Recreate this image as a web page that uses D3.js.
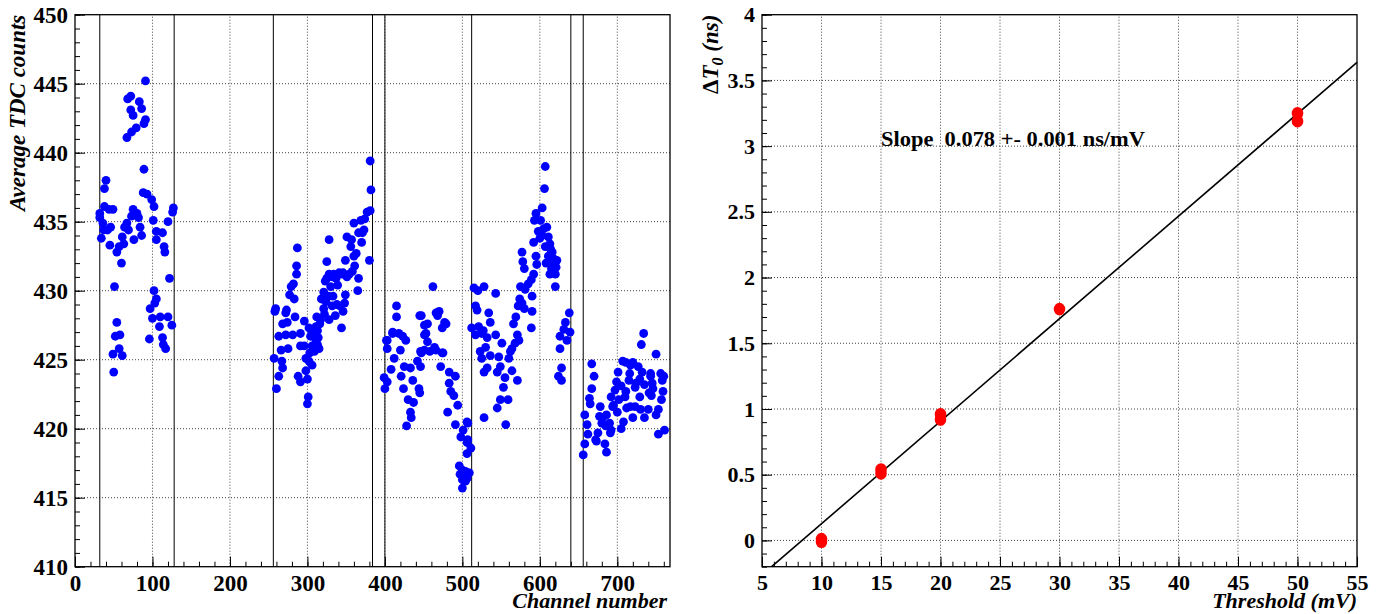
<!DOCTYPE html>
<html>
<head>
<meta charset="utf-8">
<script src="https://cdn.jsdelivr.net/npm/d3@7"></script>
<style>
  html, body { margin: 0; padding: 0; background: #fff; }
  svg { display: block; }
  text { font-family: "Liberation Serif", "Times New Roman", serif; font-weight: bold; fill: #000; }
</style>
</head>
<body>
<svg id="chart" width="1377" height="614"></svg>
<script>
// ---- Left panel: average TDC counts per channel, one array per readout block ----
const blockA = [
  [91,445.2],[68,443.9],[72,444.1],[72,443.1],[75,442.7],[83,443.7],[86,443.2],[91,442.4],[89,442.1],
  [79,441.8],[73,441.5],[67,441.1],[89,438.8],
  [40,438.0],[38,437.4],[32,435.6],[32,435.3],[34,433.8],[38,436.1],[44,435.9],[49,435.9],[37,434.4],
  [42,434.4],[45,433.3],[54,432.8],[57,433.2],[60,432.0],[63,433.4],[64,434.6],[69,434.4],[67,434.9],
  [75,435.9],[73,435.4],[80,435.6],[82,435.3],[84,434.6],[86,434.0],[76,433.7],[88,437.1],[93,437.0],
  [99,436.6],[102,436.1],[101,435.1],[105,434.3],[105,433.7],[113,434.2],[115,433.2],[116,432.8],
  [120,435.0],[126,435.7],[127,436.0],[122,430.9],[51,430.3],[102,430.0],[105,429.4],
  [36,434.9],[46,434.6],[61,433.9],
  [54,427.7],[52,426.7],[58,426.8],[57,425.8],[49,425.4],[61,425.3],[50,424.1],[97,428.7],[103,429.1],
  [100,428.0],[110,428.1],[120,428.1],[109,427.4],[125,427.5],[96,426.5],[113,426.6],[114,426.1],[117,425.8]
];
const blockB = [
  [381,439.4],[382,437.3],[381,435.8],[377,435.7],[374,435.2],[369,435.1],[360,434.9],[373,434.4],
  [371,434.2],[366,434.2],[351,433.9],[357,433.7],[370,433.5],[356,433.2],[328,433.7],[287,433.1],
  [363,432.7],[360,432.5],[349,432.2],[325,432.1],[380,432.2],[361,431.8],[286,431.8],[286,431.2],
  [328,431.2],[334,431.2],[345,431.2],[354,431.2],[366,430.9],[323,430.7],[339,430.4],[330,430.3],
  [282,430.5],[279,430.3],[365,430.0],[321,429.9],[349,429.7],[277,429.7],[283,429.4],[324,429.2],
  [348,429.1],[259,428.7],[258,428.5],[273,428.6],[272,428.4],[332,428.9],[321,428.7],[336,428.2],
  [328,427.9],[344,427.3],[284,428.1],[296,427.8],[316,427.6],[311,427.4],[268,427.6],[274,427.7],
  [306,427.0],[263,426.7],[272,426.8],[281,426.8],[291,426.9],[304,426.7],[311,426.4],[313,426.1],
  [306,426.0],[315,425.8],[291,426.0],[296,426.0],[266,425.7],[275,425.8],[257,425.1],[267,424.9],
  [306,424.6],[298,425.1],[268,424.4],[263,423.8],[288,423.8],[291,423.4],[300,423.6],[260,422.9],
  [301,422.3],[300,421.8],
  [325,430.9],[332,431.0],[337,430.9],[341,431.3],[346,431.3],[351,431.0],[358,431.4],[318,429.4],
  [322,428.3],[327,429.6],[333,429.6],[338,429.0],[342,428.9],[346,428.5],
  [302,427.3],[308,426.9],[313,427.1],[309,425.6],[303,425.5],[314,426.6],[317,427.9],[312,428.1],
  [298,424.2],[302,424.9]
];
const blockC = [
  [415,428.9],[415,428.1],[447,428.2],[470,428.5],[468,428.2],[479,427.6],[474,427.3],[455,427.6],
  [410,427.0],[418,426.9],[423,426.7],[403,426.4],[451,426.8],[455,426.3],[464,425.9],[446,425.6],
  [474,425.5],[403,425.8],[420,425.7],[412,425.1],[425,424.5],[442,424.9],[446,424.5],[433,424.4],
  [472,424.5],[483,424.1],[491,423.8],[408,424.3],[421,423.8],[436,423.5],[399,423.7],[403,423.4],
  [400,422.9],[424,422.9],[444,422.9],[483,423.3],[485,422.7],[445,422.6],[489,422.4],[430,422.1],
  [437,421.9],[494,421.7],[481,421.2],[433,421.2],[434,420.8],[428,420.2],[491,420.3],[506,420.5],
  [501,419.9],[498,419.4],[507,419.2],[506,419.0],[511,418.6],[506,418.2],[496,417.3],[500,417.0],
  [504,416.9],[497,416.7],[509,416.8],[500,416.3],[504,416.2],[500,415.7],[506,416.4],[462,430.3],
  [445,428.2],[466,428.4],[477,427.7],[427,426.4],[402,426.4],[410,426.9],[451,427.5],[453,426.9],
  [451,425.7],[458,425.6],[466,425.7],[475,425.5],[447,425.5]
];
const blockD = [
  [607,439.0],[606,437.4],[603,436.0],[595,435.6],[593,435.1],[601,435.1],[605,434.5],[598,434.3],
  [611,433.9],[592,433.5],[613,433.4],[607,433.2],[616,432.8],[577,432.8],[595,432.5],[611,432.5],
  [622,432.2],[578,432.1],[613,432.0],[596,431.9],[580,431.6],[621,431.7],[613,431.2],[620,431.2],
  [592,431.2],[589,430.8],[585,430.5],[620,430.3],[575,430.3],[581,430.1],[528,430.3],[515,430.2],
  [520,430.0],[543,429.8],[590,429.6],[577,429.1],[580,428.7],[590,428.5],[517,428.9],[519,428.6],
  [534,428.4],[536,427.7],[512,427.3],[521,427.4],[589,427.3],[517,426.8],[525,426.9],[532,426.6],
  [543,426.8],[571,426.8],[573,426.4],[568,426.2],[564,425.8],[551,426.2],[562,425.6],[523,425.6],
  [525,425.1],[536,425.3],[547,425.2],[560,425.1],[532,424.4],[528,424.1],[549,424.5],[564,424.2],
  [545,424.1],[555,423.7],[571,423.5],[553,423.0],[549,422.1],[559,422.1],[545,421.5],[528,420.8],
  [556,420.3],[507,420.4],
  [603,434.0],[609,434.6],[614,433.0],[618,432.3],[600,433.8],[608,432.0],[615,431.6],
  [566,427.6],[569,428.1],[572,428.9],[574,429.4],[527,427.1],[530,425.9],
  [638,428.4],[633,427.7],[631,427.2],[639,427.0],[626,426.7],[635,426.4],[626,425.8],[628,424.4],
  [624,423.8],[628,423.5]
];
const blockE = [
  [734,426.9],[731,426.1],[750,425.4],[667,424.7],[711,424.8],[720,424.8],[727,424.5],[670,423.8],
  [701,424.1],[716,424.0],[743,424.0],[756,424.0],[699,423.4],[715,423.5],[729,423.6],[758,423.5],
  [667,422.9],[697,422.8],[705,423.1],[723,423.0],[735,423.2],[746,422.9],[664,422.2],[692,422.3],
  [710,422.3],[729,422.3],[744,422.4],[759,422.7],[757,422.1],[695,421.7],[712,421.5],[723,421.6],
  [740,421.4],[753,421.4],[658,421.0],[677,420.9],[686,421.0],[735,420.8],[750,421.0],[661,420.3],
  [680,420.4],[690,420.4],[708,420.5],[720,420.8],[662,419.6],[675,419.7],[691,419.7],[705,420.0],
  [753,419.6],[761,419.9],[658,418.9],[673,419.1],[684,418.9],[656,418.1],[686,418.3],
  [707,424.9],[717,424.6],[732,424.1],[743,423.8],[724,423.3],[711,422.7],[741,422.6],[702,422.1],
  [717,421.6],[730,421.4],[694,421.6],[681,420.8],[692,419.9],[672,419.2],
  [760,423.8],[745,423.3],[700,421.2],[685,420.2],[665,421.8],[678,421.6]
];
// channel numbers where readout boards start / end
const boardEdges = [32, 128, 256, 384, 400, 512, 640, 656];

// ---- Right panel: offset versus discriminator threshold ----
const thresholds = [10, 10, 15, 15, 20, 20, 30, 50, 50];
const deltaT0    = [0.01, -0.01, 0.54, 0.51, 0.96, 0.92, 1.76, 3.25, 3.19];
const fitSlope = 0.078;        // ns/mV
const fitIntercept = -0.653;   // ns
const fitRange = [5, 55];

// tick labels
const leftXTicks = [0, 100, 200, 300, 400, 500, 600, 700];
const leftYTicks = [410, 415, 420, 425, 430, 435, 440, 445, 450];
const rightXTicks = [5, 10, 15, 20, 25, 30, 35, 40, 45, 50, 55];
const rightYTicks = [0, 0.5, 1, 1.5, 2, 2.5, 3, 3.5, 4];

const svg = d3.select("#chart");
svg.append("rect").attr("width", 1377).attr("height", 614).attr("fill", "#fff");

const GRID = { stroke: "#444", dash: "1,2" };

function drawFrame(g, x, y, xMajor, xMinor, yMajor, yMinor, fontSize, fmtY) {
  const [x0, x1] = x.range();
  const [y0, y1] = y.range(); // bottom, top
  // dotted grid
  const grid = g.append("g");
  grid.selectAll("line.gx").data(xMajor.filter(v => x(v) > x0 + 1 && x(v) < x1 - 1)).join("line")
    .attr("x1", d => x(d)).attr("x2", d => x(d)).attr("y1", y0).attr("y2", y1)
    .attr("stroke", GRID.stroke).attr("stroke-dasharray", GRID.dash).attr("stroke-width", 1);
  grid.selectAll("line.gy").data(yMajor.filter(v => y(v) < y0 - 1 && y(v) > y1 + 1)).join("line")
    .attr("y1", d => y(d)).attr("y2", d => y(d)).attr("x1", x0).attr("x2", x1)
    .attr("stroke", GRID.stroke).attr("stroke-dasharray", GRID.dash).attr("stroke-width", 1);

  // minor ticks (inward)
  g.append("g").attr("transform", `translate(0,${y0})`)
    .call(d3.axisBottom(x).tickValues(xMinor).tickSizeInner(-5).tickSizeOuter(0).tickFormat(""))
    .call(s => s.select(".domain").remove());
  g.append("g").attr("transform", `translate(${x0},0)`)
    .call(d3.axisLeft(y).tickValues(yMinor).tickSizeInner(-5).tickSizeOuter(0).tickFormat(""))
    .call(s => s.select(".domain").remove());
  // major ticks with labels
  const ax = g.append("g").attr("transform", `translate(0,${y0})`)
    .call(d3.axisBottom(x).tickValues(xMajor).tickSizeInner(-10).tickSizeOuter(0).tickPadding(8).tickFormat(d3.format("~g")));
  ax.select(".domain").remove();
  ax.selectAll("text").attr("font-size", fontSize).attr("font-family", "Liberation Serif").attr("font-weight", "bold");
  const ay = g.append("g").attr("transform", `translate(${x0},0)`)
    .call(d3.axisLeft(y).tickValues(yMajor).tickSizeInner(-10).tickSizeOuter(0).tickPadding(7).tickFormat(fmtY));
  ay.select(".domain").remove();
  ay.selectAll("text").attr("font-size", fontSize).attr("font-family", "Liberation Serif").attr("font-weight", "bold");
  g.selectAll(".tick line").attr("stroke", "#000");
}

function drawBorder(g, x, y) {
  const [x0, x1] = x.range();
  const [y0, y1] = y.range();
  g.append("rect").attr("x", x0).attr("y", y1).attr("width", x1 - x0).attr("height", y0 - y1)
    .attr("fill", "none").attr("stroke", "#000").attr("stroke-width", 1.3);
}

// ================= left panel =================
const xL = d3.scaleLinear().domain([0, 768]).range([75, 670]);
const yL = d3.scaleLinear().domain([410, 450]).range([566.7, 14.7]);
const gL = svg.append("g");
drawFrame(gL, xL, yL, leftXTicks, d3.range(0, 769, 20), leftYTicks, d3.range(410, 450.5, 1), 23, d3.format("d"));

gL.append("g").selectAll("line").data(boardEdges).join("line")
  .attr("x1", d => xL(d)).attr("x2", d => xL(d)).attr("y1", yL(410)).attr("y2", yL(450))
  .attr("stroke", "#000").attr("stroke-width", 1);

const allBlocks = [blockA, blockB, blockC, blockD, blockE];
gL.append("g").selectAll("g").data(allBlocks).join("g")
  .selectAll("circle").data(d => d).join("circle")
  .attr("cx", d => xL(d[0])).attr("cy", d => yL(d[1])).attr("r", 4.4).attr("fill", "#0000ff");

drawBorder(gL, xL, yL);

gL.append("text").attr("transform", `translate(25,14.7) rotate(-90)`)
  .attr("text-anchor", "end").attr("font-size", 23).attr("font-style", "italic")
  .text("Average TDC counts");
gL.append("text").attr("x", 667).attr("y", 608)
  .attr("text-anchor", "end").attr("font-size", 22).attr("font-style", "italic")
  .text("Channel number");

// ================= right panel =================
const xR = d3.scaleLinear().domain([5, 55]).range([762, 1357]);
const yR = d3.scaleLinear().domain([-0.2, 4]).range([566.7, 14.7]);
const gR = svg.append("g");
drawFrame(gR, xR, yR, rightXTicks, d3.range(5, 55.5, 1), rightYTicks,
  d3.range(-2, 41, 1).map(v => v / 10), 22, d3.format("~g"));

// fitted straight line, clipped to the frame
const xAtBottom = (-0.2 - fitIntercept) / fitSlope;
const fitX0 = Math.max(fitRange[0], xAtBottom);
gR.append("line")
  .attr("x1", xR(fitX0)).attr("y1", yR(fitIntercept + fitSlope * fitX0))
  .attr("x2", xR(fitRange[1])).attr("y2", yR(fitIntercept + fitSlope * fitRange[1]))
  .attr("stroke", "#000").attr("stroke-width", 1.6);

gR.append("g").selectAll("ellipse").data(thresholds.map((t, i) => [t, deltaT0[i]])).join("ellipse")
  .attr("cx", d => xR(d[0])).attr("cy", d => yR(d[1])).attr("rx", 5.8).attr("ry", 6.3).attr("fill", "#ff0000");

drawBorder(gR, xR, yR);

gR.append("text").attr("x", 881).attr("y", 146).attr("font-size", 21)
  .style("white-space", "pre")
  .attr("textLength", 264).attr("lengthAdjust", "spacingAndGlyphs")
  .text("Slope  0.078 +- 0.001 ns/mV");

const yt = gR.append("text").attr("transform", `translate(718,14.7) rotate(-90)`)
  .attr("text-anchor", "end").attr("font-size", 23);
yt.append("tspan").attr("font-style", "normal").text("Δ");
yt.append("tspan").attr("font-style", "italic").text("T");
yt.append("tspan").attr("font-style", "italic").attr("font-size", 16).attr("dy", 5).text("0");
yt.append("tspan").attr("font-style", "italic").attr("dy", -5).text(" (ns)");

gR.append("text").attr("x", 1357).attr("y", 608)
  .attr("text-anchor", "end").attr("font-size", 22).attr("font-style", "italic")
  .text("Threshold (mV)");
</script>
</body>
</html>
